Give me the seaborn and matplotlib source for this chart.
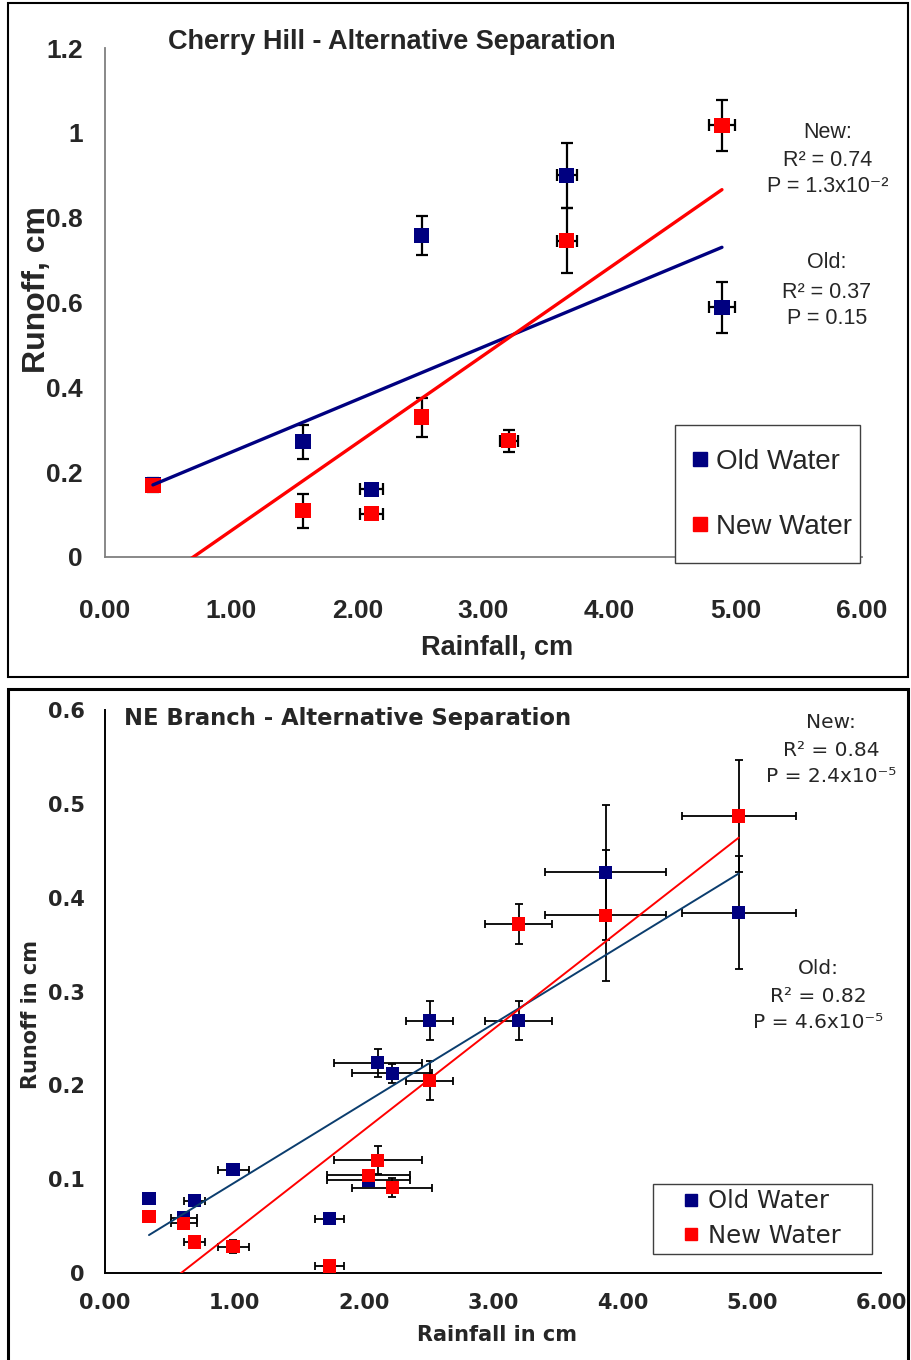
import numpy as np
import pandas as pd
import matplotlib
matplotlib.use("Agg")
import matplotlib.pyplot as plt
from matplotlib.lines import Line2D
from matplotlib.patches import Rectangle
import seaborn as sns

# ---------------- Cherry Hill ----------------
ch_old_rain = [0.38, 1.57, 2.11, 2.51, 3.66, 4.89]
ch_old_runoff = [0.170, 0.272, 0.160, 0.758, 0.900, 0.589]
ch_old_rain_err = [0.0, 0.0, 0.09, 0.0, 0.08, 0.10]
ch_old_runoff_err = [0.017, 0.040, 0.008, 0.046, 0.077, 0.060]

ch_new_rain = [0.38, 1.57, 2.11, 2.51, 3.20, 3.66, 4.89]
ch_new_runoff = [0.168, 0.109, 0.102, 0.330, 0.274, 0.746, 1.018]
ch_new_rain_err = [0.0, 0.0, 0.09, 0.0, 0.07, 0.08, 0.10]
ch_new_runoff_err = [0.012, 0.040, 0.008, 0.046, 0.026, 0.077, 0.060]

# linear trends (slope, intercept)
ch_fit_old = [0.1242, 0.1228]
ch_fit_new = [0.2067, -0.1447]
ch_fit_range = [0.38, 4.89]

ch_stats_new = ["New:", "R\u00b2 = 0.74", "P = 1.3x10\u207b\u00b2"]
ch_stats_old = ["Old:", "R\u00b2 = 0.37", "P = 0.15"]

ch_xticks = [0, 1, 2, 3, 4, 5, 6]
ch_xticklabels = ["0.00", "1.00", "2.00", "3.00", "4.00", "5.00", "6.00"]
ch_yticks = [0, 0.2, 0.4, 0.6, 0.8, 1.0, 1.2]
ch_yticklabels = ["0", "0.2", "0.4", "0.6", "0.8", "1", "1.2"]

# ---------------- NE Branch ----------------
ne_rain = [0.34, 0.61, 0.69, 0.99, 1.735, 2.04, 2.11, 2.22, 2.51, 3.20, 3.87, 4.90]
ne_rain_err = [0.0, 0.10, 0.08, 0.12, 0.11, 0.32, 0.34, 0.31, 0.18, 0.26, 0.47, 0.44]
ne_old_runoff = [0.079, 0.059, 0.077, 0.110, 0.058, 0.099, 0.224, 0.213, 0.269, 0.269, 0.427, 0.384]
ne_old_runoff_err = [0.003, 0.004, 0.005, 0.006, 0.003, 0.004, 0.015, 0.010, 0.021, 0.021, 0.072, 0.060]
ne_new_runoff = [0.060, 0.053, 0.033, 0.028, 0.0075, 0.104, 0.120, 0.091, 0.205, 0.372, 0.381, 0.487]
ne_new_runoff_err = [0.002, 0.003, 0.006, 0.007, 0.003, 0.005, 0.015, 0.010, 0.021, 0.021, 0.070, 0.060]

ne_fit_old = [0.0845, 0.0117]
ne_fit_new = [0.1076, -0.0633]
ne_fit_range = [0.34, 4.90]

ne_stats_new = ["New:", "R\u00b2 = 0.84", "P = 2.4x10\u207b\u2075"]
ne_stats_old = ["Old:", "R\u00b2 = 0.82", "P = 4.6x10\u207b\u2075"]

ne_xticks = [0, 1, 2, 3, 4, 5, 6]
ne_xticklabels = ["0.00", "1.00", "2.00", "3.00", "4.00", "5.00", "6.00"]
ne_yticks = [0, 0.1, 0.2, 0.3, 0.4, 0.5, 0.6]
ne_yticklabels = ["0", "0.1", "0.2", "0.3", "0.4", "0.5", "0.6"]

series = ["Old Water", "New Water"]
palette = {"Old Water": "#000080", "New Water": "#FF0000"}

sns.set_style("white")
plt.rcParams["font.family"] = ["DejaVu Sans"]

W, H = 911, 1360
fig = plt.figure(figsize=(W / 100, H / 100), dpi=100)


def fx(px):
    return px / W


def fy(py):
    return 1 - py / H


ARIAL = ["Liberation Sans", "DejaVu Sans"]


def frame(ax, x_rain_old, y_old, xe_old, ye_old, x_rain_new, y_new, xe_new, ye_new,
          msize, elw, cap):
    df = pd.concat([
        pd.DataFrame({"rain": x_rain_old, "runoff": y_old, "source": "Old Water"}),
        pd.DataFrame({"rain": x_rain_new, "runoff": y_new, "source": "New Water"}),
    ], ignore_index=True)
    for xs, ys, xe, ye in [(x_rain_old, y_old, xe_old, ye_old),
                           (x_rain_new, y_new, xe_new, ye_new)]:
        ax.errorbar(xs, ys, xerr=xe, yerr=ye, fmt="none", ecolor="black",
                    elinewidth=elw, capsize=cap, capthick=elw, zorder=2)
    sns.scatterplot(data=df, x="rain", y="runoff", hue="source", hue_order=series,
                    palette=palette, marker="s", s=msize, linewidth=0,
                    legend=False, ax=ax, zorder=3)


def trend(ax, fit, xr, color, lw):
    xs = np.array(xr)
    sns.lineplot(x=xs, y=fit[0] * xs + fit[1], color=color, lw=lw, ax=ax,
                 legend=False, zorder=4)


def legend_box(ax, left, top, right, bottom, entries_left, entries_mid,
               fontsize, family, msize, spacing, textpad):
    handles = [Line2D([], [], marker="s", ls="", color=palette[k], markersize=msize)
               for k in series]
    leg = ax.legend(handles, series, loc="center left",
                    bbox_to_anchor=(fx(entries_left), fy(entries_mid)),
                    bbox_transform=fig.transFigure, borderaxespad=0, borderpad=0,
                    frameon=False, prop={"family": family, "size": fontsize},
                    labelspacing=spacing, handlelength=0.5, handletextpad=textpad)
    leg.set_zorder(7)
    ax.add_patch(Rectangle((fx(left), fy(bottom)), fx(right) - fx(left),
                           fy(top) - fy(bottom), transform=fig.transFigure,
                           facecolor="white", edgecolor="#404040", lw=1.0,
                           zorder=6, clip_on=False))
    return leg


# ================= top panel =================
ax1 = fig.add_axes([fx(105), fy(557), fx(862) - fx(105), fy(48) - fy(557)])
frame(ax1, ch_old_rain, ch_old_runoff, ch_old_rain_err, ch_old_runoff_err,
      ch_new_rain, ch_new_runoff, ch_new_rain_err, ch_new_runoff_err,
      msize=120, elw=1.6, cap=4.5)
trend(ax1, ch_fit_old, ch_fit_range, "#000080", 2.4)
trend(ax1, ch_fit_new, ch_fit_range, "#FF0000", 2.4)
ax1.set_xlim(0, 6)
ax1.set_ylim(0, 1.2)
ax1.set_xticks(ch_xticks)
ax1.set_xticklabels(ch_xticklabels)
ax1.set_yticks(ch_yticks)
ax1.set_yticklabels(ch_yticklabels)
for s in ["top", "right"]:
    ax1.spines[s].set_visible(False)
for s in ["left", "bottom"]:
    ax1.spines[s].set_color("#7f7f7f")
    ax1.spines[s].set_linewidth(1.3)
ax1.tick_params(axis="both", direction="out", length=6, width=1.3, color="#7f7f7f",
                labelsize=19, pad=10)
ax1.tick_params(axis="x", pad=24)
for lab in ax1.get_xticklabels() + ax1.get_yticklabels():
    lab.set_fontfamily(ARIAL)
    lab.set_fontweight("bold")
ax1.set_xlabel("Rainfall, cm", fontsize=19.5, fontweight="bold", family=ARIAL)
ax1.set_ylabel("Runoff, cm", fontsize=23, fontweight="bold", family=ARIAL)
ax1.xaxis.set_label_coords(0.518, -0.153)
ax1.yaxis.set_label_coords(-0.07, 0.525)

fig.text(fx(168), fy(42), "Cherry Hill - Alternative Separation", fontsize=19.5,
         fontweight="bold", family=ARIAL, ha="left", va="center")

for txt, py in zip(ch_stats_new, [132, 160, 187]):
    fig.text(fx(828), fy(py), txt, fontsize=15.5, family=ARIAL, ha="center", va="center")
for txt, py in zip(ch_stats_old, [263, 292, 318]):
    fig.text(fx(827), fy(py), txt, fontsize=15.5, family=ARIAL, ha="center", va="center")

legend_box(ax1, 675, 425, 860, 563, 693.5, 494.5, fontsize=20, family=ARIAL,
           msize=9.5, spacing=1.4, textpad=0.31)

# ================= bottom panel =================
ax2 = fig.add_axes([fx(105), fy(1273), fx(881) - fx(105), fy(710) - fy(1273)])
frame(ax2, ne_rain, ne_old_runoff, ne_rain_err, ne_old_runoff_err,
      ne_rain, ne_new_runoff, ne_rain_err, ne_new_runoff_err,
      msize=90, elw=1.3, cap=3.2)
trend(ax2, ne_fit_old, ne_fit_range, "#0b3d6e", 1.4)
trend(ax2, ne_fit_new, ne_fit_range, "#FF0000", 1.4)
ax2.set_xlim(0, 6)
ax2.set_ylim(0, 0.6)
ax2.set_xticks(ne_xticks)
ax2.set_xticklabels(ne_xticklabels)
ax2.set_yticks(ne_yticks)
ax2.set_yticklabels(ne_yticklabels)
for s in ["top", "right"]:
    ax2.spines[s].set_visible(False)
for s in ["left", "bottom"]:
    ax2.spines[s].set_color("black")
    ax2.spines[s].set_linewidth(1.4)
ax2.tick_params(axis="both", direction="out", length=6.5, width=1.3, color="black",
                labelsize=15, pad=8)
for lab in ax2.get_xticklabels() + ax2.get_yticklabels():
    lab.set_fontweight("bold")
ax2.set_xlabel("Rainfall in cm", fontsize=15, fontweight="bold")
ax2.set_ylabel("Runoff in cm", fontsize=15, fontweight="bold")
ax2.xaxis.set_label_coords(0.505, -0.093)
ax2.yaxis.set_label_coords(-0.083, 0.46)

fig.text(fx(124), fy(718), "NE Branch - Alternative Separation", fontsize=16.3,
         fontweight="bold", ha="left", va="center")

for txt, py in zip(ne_stats_new, [722, 750, 777]):
    fig.text(fx(831), fy(py), txt, fontsize=14.5, ha="center", va="center")
for txt, py in zip(ne_stats_old, [969, 996, 1023]):
    fig.text(fx(818), fy(py), txt, fontsize=14.5, ha="center", va="center")

legend_box(ax2, 653, 1184, 872, 1254, 685, 1218.5, fontsize=17.5, family=["DejaVu Sans"],
           msize=9, spacing=0.42, textpad=0.45)

# panel borders
fig.add_artist(Rectangle((fx(8), fy(677)), fx(908) - fx(8), fy(3) - fy(677),
                         transform=fig.transFigure, fill=False, ec="black", lw=1.5))
fig.add_artist(Rectangle((fx(8), fy(1366)), fx(908) - fx(8), fy(689) - fy(1366),
                         transform=fig.transFigure, fill=False, ec="black", lw=2.2))

fig.savefig("out.png", dpi=100, facecolor="white")
